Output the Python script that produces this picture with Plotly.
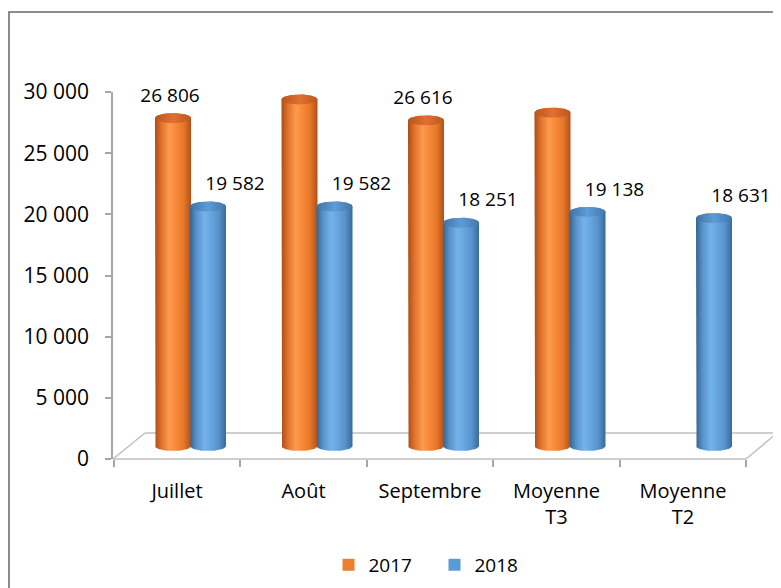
import numpy as np
import plotly.graph_objects as go

# ---------------- data ----------------
categories = ["Juillet", "Août", "Septembre", "Moyenne<br>T3", "Moyenne<br>T2"]
series_names = ["2017", "2018"]
values_2017 = [26806, 28327, 26616, 27250, None]
values_2018 = [19582, 19582, 18251, 19138, 18631]
y_tick_values = [0, 5000, 10000, 15000, 20000, 25000, 30000]

# ---------------- geometry (page pixel based helpers) ----------------
W_FIG, H_FIG = 781, 588
OFF = 8                                       # page body margin
PL, PR, PT, PB = 113, 778, 92, 459            # plot area in page px
X0_CAT_PX, CAT_PX = 177, 126.5                # centre of first category, spacing
Y_MAX = 30000
PX_PER_VAL = (PB - PT) / Y_MAX

x_range = [(PL - X0_CAT_PX) / CAT_PX, (PR - X0_CAT_PX) / CAT_PX]

def px_to_xval(dpx):
    return dpx / CAT_PX

def px_to_yval(dpx):
    return dpx / PX_PER_VAL

def paper_x(px):
    return (px - PL) / (PR - PL)

def paper_y(py):
    return (PB - py) / (PB - PT)

BASE = px_to_yval(13)          # depth lift of the cylinders
BAR_W = px_to_xval(36)
OFFSETS = [px_to_xval(-22), px_to_xval(13)]
ELL_B = px_to_yval(5)          # vertical semi-axis of cylinder ellipses

body_scales = [
    [[0, "#A94E18"], [0.18, "#E2722A"], [0.4, "#FB9B50"], [0.55, "#F98C3C"], [0.8, "#E67628"], [1, "#AF511A"]],
    [[0, "#35648F"], [0.18, "#5892CA"], [0.4, "#73B2EA"], [0.55, "#6AA8E1"], [0.8, "#5692CC"], [1, "#3A6A98"]],
]
cap_scales = [
    [[0, "#B8561B"], [0.5, "#E07030"], [1, "#BC581D"]],
    [[0, "#3F73A6"], [0.5, "#5E9CD6"], [1, "#4276AA"]],
]
legend_colors = ["#ED7D31", "#5B9BD5"]
font_family = "Open Sans, Noto Sans, sans-serif"

fig = go.Figure()

t_half = np.linspace(0, np.pi, 40)

for si, vals in enumerate([values_2017, values_2018]):
    for ci, v in enumerate(vals):
        if v is None:
            continue
        xl = ci + OFFSETS[si]
        xr = xl + BAR_W
        xc = (xl + xr) / 2
        a = BAR_W / 2
        top = BASE + v
        bx = np.concatenate([[xl, xl], xc - a * np.cos(t_half), [xr], xc + a * np.cos(t_half)])
        by = np.concatenate([[top, BASE], BASE - ELL_B * np.sin(t_half), [top], top + ELL_B * np.sin(t_half)])
        fig.add_trace(go.Scatter(
            x=bx, y=by, mode="lines", line=dict(width=0), fill="toself",
            fillgradient=dict(type="horizontal", colorscale=body_scales[si]),
            hoverinfo="skip", showlegend=False))
        tt = np.linspace(0, 2 * np.pi, 80)
        fig.add_trace(go.Scatter(
            x=xc + a * np.cos(tt), y=top + ELL_B * np.sin(tt), mode="lines",
            line=dict(width=0), fill="toself",
            fillgradient=dict(type="horizontal", colorscale=cap_scales[si]),
            hoverinfo="skip", showlegend=False))

# data labels
label_dx = [px_to_xval(-3), px_to_xval(27)]
label_dy = px_to_yval(21)
for si, vals in enumerate([values_2017, values_2018]):
    xs, ys, ts = [], [], []
    for ci, v in enumerate(vals):
        if v is None:
            continue
        xs.append(ci + OFFSETS[si] + BAR_W / 2 + label_dx[si])
        ys.append(BASE + v + label_dy)
        ts.append(f"{v:,}".replace(",", " "))
    fig.add_trace(go.Scatter(
        x=xs, y=ys, mode="text", text=ts, textposition="middle center",
        textfont=dict(size=19, color="#000000", family=font_family),
        cliponaxis=False, hoverinfo="skip", showlegend=False))

# legend entries (one legend box per series so each can be placed)
legend_ids = ["legend", "legend2"]
for si, name in enumerate(series_names):
    fig.add_trace(go.Scatter(
        x=[None], y=[None], mode="markers", name=name, legend=legend_ids[si],
        marker=dict(symbol="square", size=12, color=legend_colors[si])))

floor_col = "#BFBFBF"
shapes = []
def seg(x0, y0, x1, y1, col=floor_col, w=1.5):
    shapes.append(dict(type="line", xref="paper", yref="paper",
                       x0=paper_x(x0), y0=paper_y(y0), x1=paper_x(x1), y1=paper_y(y1),
                       line=dict(color=col, width=w), layer="below"))
seg(113, 459, 746, 459)
seg(113, 459, 145, 433)
seg(145, 433, 777, 433)
seg(746, 459, 777, 433)
shapes.append(dict(type="rect", xref="paper", yref="paper",
                   x0=paper_x(9), y0=paper_y(12), x1=paper_x(820), y1=paper_y(640),
                   line=dict(color="#8C8C8C", width=2), layer="below"))

def legend_box(square_center_px):
    return dict(orientation="h", xref="container", yref="container",
                x=(square_center_px - OFF - 19.5) / W_FIG, y=1 - (565 - OFF) / H_FIG,
                xanchor="left", yanchor="middle",
                font=dict(size=19, family=font_family), itemwidth=30,
                bgcolor="rgba(0,0,0,0)")

fig.update_layout(
    width=W_FIG, height=H_FIG, autosize=False,
    margin=dict(l=PL - OFF, r=W_FIG - (PR - OFF), t=PT - OFF, b=H_FIG - (PB - OFF), autoexpand=False),
    paper_bgcolor="white", plot_bgcolor="white",
    separators=", ",
    font=dict(family=font_family, color="#000000"),
    shapes=shapes,
    showlegend=True,
    legend=legend_box(348),
    legend2=legend_box(454),
    xaxis=dict(range=x_range, showgrid=False, zeroline=False, showline=False, automargin=False,
               tickmode="array", tickvals=list(range(len(categories))), ticktext=categories,
               ticks="", tickfont=dict(size=20, family=font_family),
               ticklabelstandoff=18,
               minor=dict(tickmode="array", tickvals=[i - 0.5 for i in range(len(categories) + 1)],
                          ticks="outside", ticklen=7, tickcolor="#A6A6A6", tickwidth=1.5)),
    yaxis=dict(range=[0, Y_MAX], showgrid=False, zeroline=False, showline=True, automargin=False,
               linecolor="#A6A6A6", linewidth=1.5,
               tickmode="array", tickvals=y_tick_values, tickformat=",d",
               ticks="outside", ticklen=6, tickcolor="#A6A6A6", tickwidth=1.5,
               tickfont=dict(size=21, family=font_family), ticklabelstandoff=12),
)

fig.write_html("out.html")
